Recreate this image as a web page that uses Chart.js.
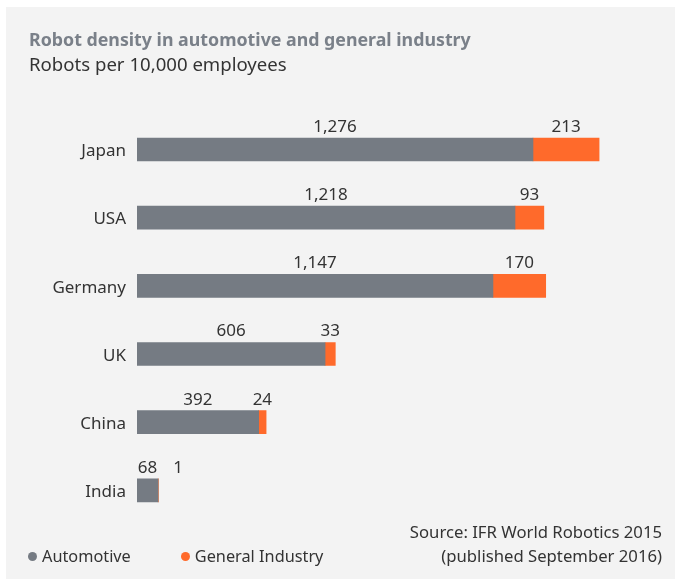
<!DOCTYPE html>
<html>
<head>
<meta charset="utf-8">
<script src="https://cdn.jsdelivr.net/npm/chart.js@4"></script>
<style>
  html, body { margin: 0; padding: 0; background: #fff; }
  body { width: 675px; height: 579px; position: relative; overflow: hidden; font-family: "Noto Sans", sans-serif; }
  #panel { position: absolute; left: 6px; top: 7px; right: 0; bottom: 0; background: #f3f3f3; }
  #chart { position: absolute; left: 0; top: 0; }
  .txt { position: absolute; white-space: nowrap; color: #333; }
  #title { left: 29px; top: 27px; font-size: 17.8px; font-weight: bold; color: #7a8089; line-height: 24px; }
  #subtitle { left: 29px; top: 52px; font-size: 18.6px; line-height: 24px; }
  #source { right: 13px; top: 520px; font-size: 16.7px; line-height: 23.5px; text-align: right; }
  #legend { left: 28px; top: 544px; font-size: 16.3px; line-height: 24px; display: flex; }
  #legend span.item { display: flex; align-items: center; margin-right: 50px; }
  #legend span.dot { width: 9px; height: 9px; border-radius: 50%; margin-right: 5px; }
</style>
</head>
<body>
<div id="panel"></div>
<canvas id="chart" width="675" height="579"></canvas>
<div class="txt" id="title">Robot density in automotive and general industry</div>
<div class="txt" id="subtitle">Robots per 10,000 employees</div>
<div class="txt" id="legend"></div>
<div class="txt" id="source">Source: IFR World Robotics 2015<br>(published September 2016)</div>
<script>
  const countries = ["Japan", "USA", "Germany", "UK", "China", "India"];
  const automotive = [1276, 1218, 1147, 606, 392, 68];
  const generalIndustry = [213, 93, 170, 33, 24, 1];

  const grey = "#757b83";
  const orange = "#ff6a2b";

  // draws the numbers above each segment; pushes a label right if it would collide
  const valueLabels = {
    id: "valueLabels",
    afterDatasetsDraw(chart) {
      const ctx = chart.ctx;
      ctx.save();
      ctx.font = "17px 'Noto Sans'";
      ctx.fillStyle = "#333";
      ctx.textAlign = "left";
      ctx.textBaseline = "alphabetic";
      const rightEdge = [];
      chart.data.datasets.forEach((ds, di) => {
        chart.getDatasetMeta(di).data.forEach((bar, i) => {
          const text = ds.data[i].toLocaleString("en-US");
          const w = ctx.measureText(text).width;
          let x = (bar.x + bar.base) / 2 - w / 2;
          if (rightEdge[i] !== undefined && x < rightEdge[i] + 16) x = rightEdge[i] + 16;
          rightEdge[i] = x + w;
          ctx.fillText(text, x, bar.y - bar.height / 2 - 6);
        });
      });
      ctx.restore();
    }
  };

  const chart = new Chart(document.getElementById("chart"), {
    type: "bar",
    data: {
      labels: countries,
      datasets: [
        { label: "Automotive", data: automotive, backgroundColor: grey },
        { label: "General Industry", data: generalIndustry, backgroundColor: orange }
      ]
    },
    options: {
      indexAxis: "y",
      responsive: false,
      animation: false,
      devicePixelRatio: 1,
      barThickness: 23,
      layout: { padding: { left: 20, right: 72.5, top: 115.4, bottom: 54.6 } },
      plugins: {
        legend: { display: false },
        tooltip: { enabled: false }
      },
      scales: {
        x: { stacked: true, display: false, min: 0, max: 1500 },
        y: {
          stacked: true,
          grid: { display: false, drawTicks: false },
          border: { display: false },
          ticks: { color: "#333", font: { family: "Noto Sans", size: 17 }, padding: 11, labelOffset: 2 },
          afterFit(scale) { scale.width = 117; }
        }
      }
    },
    plugins: [valueLabels]
  });

  // html legend from the chart's own legend items
  const legendEl = document.getElementById("legend");
  chart.options.plugins.legend.labels.generateLabels(chart).forEach(item => {
    const span = document.createElement("span");
    span.className = "item";
    const dot = document.createElement("span");
    dot.className = "dot";
    dot.style.background = item.fillStyle;
    span.appendChild(dot);
    span.appendChild(document.createTextNode(item.text));
    legendEl.appendChild(span);
  });
</script>
</body>
</html>
